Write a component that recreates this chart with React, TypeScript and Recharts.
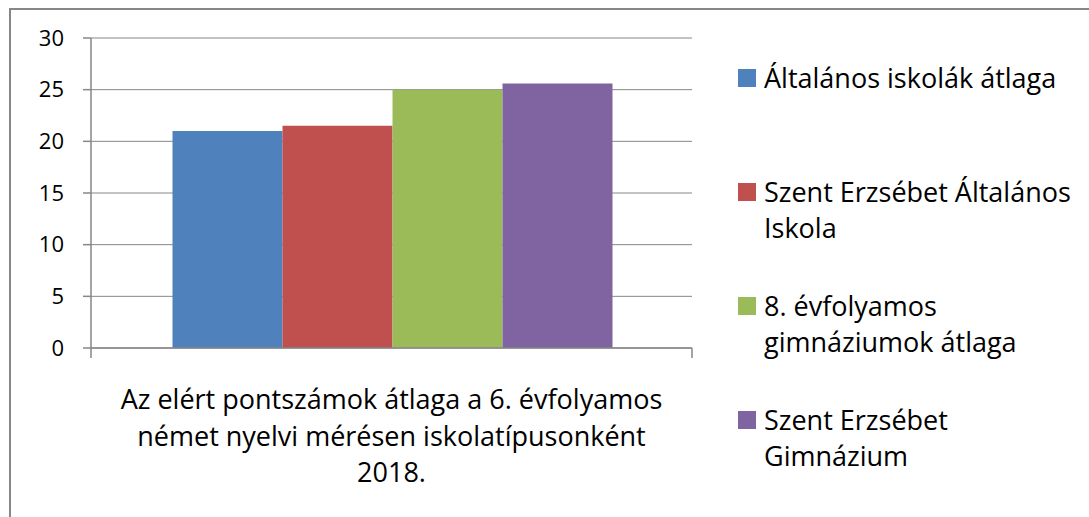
import React from "react";
import { BarChart, Bar, XAxis, YAxis, CartesianGrid, Legend } from "recharts";

const categories = [
  "Az elért pontszámok átlaga a 6. évfolyamos német nyelvi mérésen iskolatípusonként 2018.",
];
const categoryLines = [
  ["Az elért pontszámok átlaga a 6. évfolyamos", "német nyelvi mérésen iskolatípusonként", "2018."],
];
const seriesNames = [
  "Általános iskolák átlaga",
  "Szent Erzsébet Általános Iskola",
  "8. évfolyamos gimnáziumok átlaga",
  "Szent Erzsébet Gimnázium",
];
const legendLines = [
  ["Általános iskolák átlaga"],
  ["Szent Erzsébet Általános", "Iskola"],
  ["8. évfolyamos", "gimnáziumok átlaga"],
  ["Szent Erzsébet", "Gimnázium"],
];
const altalanosAtlag = [21.0];
const szentErzsebetAltalanos = [21.5];
const gimnazium8Atlag = [25.0];
const szentErzsebetGimnazium = [25.6];
const yTicks = [0, 5, 10, 15, 20, 25, 30];

const seriesValues = [altalanosAtlag, szentErzsebetAltalanos, gimnazium8Atlag, szentErzsebetGimnazium];
const seriesKeys = ["s0", "s1", "s2", "s3"];
const colors = ["#4F81BD", "#C0504D", "#9BBB59", "#8064A2"];

const data = categories.map((c, i) => {
  const row: any = { category: c, idx: i };
  seriesKeys.forEach((k, j) => {
    row[k] = seriesValues[j][i];
  });
  return row;
});

const FONT = "'Open Sans', 'DejaVu Sans', sans-serif";
const GRAY = "#878787";

const XTick = (props: any) => {
  const { x, y, payload, index } = props;
  const off = payload && payload.offset != null ? payload.offset : 300;
  const lines = categoryLines[index] || [String(payload.value)];
  return (
    <g>
      <line x1={x - off} x2={x - off} y1={y} y2={y + 10} stroke={GRAY} strokeWidth={1.5} />
      <line x1={x + off} x2={x + off} y1={y} y2={y + 10} stroke={GRAY} strokeWidth={1.5} />
      <text x={x} y={y + 61} textAnchor="middle" fontFamily={FONT} fontSize={27} fill="#000">
        {lines.map((l: string, i: number) => (
          <tspan key={i} x={x} dy={i === 0 ? 0 : 36.5}>
            {l}
          </tspan>
        ))}
      </text>
    </g>
  );
};

const renderLegend = () => (
  <div style={{ fontFamily: FONT, fontSize: 27, color: "#000" }}>
    {seriesNames.map((name, i) => (
      <div key={name} style={{ height: 114, display: "flex", alignItems: "flex-start" }}>
        <div
          style={{
            width: 18,
            height: 18,
            background: colors[i],
            marginTop: 9,
            marginRight: 8,
            flex: "0 0 auto",
          }}
        />
        <div style={{ lineHeight: "36px", whiteSpace: "nowrap" }}>
          {legendLines[i].map((l, j) => (
            <div key={j}>{l}</div>
          ))}
        </div>
      </div>
    ))}
  </div>
);

export default function App() {
  return (
    <div style={{ position: "absolute", left: 0, top: 0, width: 1089, height: 517, overflow: "hidden", background: "#fff" }}>
      <div
        style={{
          position: "absolute",
          left: 9,
          top: 8,
          width: 1200,
          height: 700,
          border: `2px solid ${GRAY}`,
        }}
      />
      <div style={{ position: "absolute", left: 0, top: 0 }}>
        <BarChart
          width={1089}
          height={517}
          data={data}
          margin={{ top: 38, right: 397, left: 31, bottom: 29 }}
          barCategoryGap={81.5}
          barGap={0}
        >
          <CartesianGrid horizontal vertical={false} stroke={GRAY} strokeWidth={1} />
          <XAxis
            dataKey="category"
            axisLine={{ stroke: GRAY, strokeWidth: 1.5 }}
            tickLine={false}
            tickSize={0}
            tickMargin={0}
            height={140}
            interval={0}
            tick={<XTick />}
          />
          <YAxis
            domain={[0, 30]}
            ticks={yTicks}
            width={60}
            axisLine={{ stroke: GRAY, strokeWidth: 1.5 }}
            tickLine={{ stroke: GRAY, strokeWidth: 1.5 }}
            tickSize={8}
            tickMargin={19}
            tick={{ fontFamily: FONT, fontSize: 22, fill: "#000" }}
          />
          <Legend
            layout="vertical"
            align="center"
            verticalAlign="middle"
            wrapperStyle={{ left: 738, top: 60, width: 350 }}
            content={renderLegend}
          />
          {seriesKeys.map((k, j) => (
            <Bar key={k} dataKey={k} name={seriesNames[j]} fill={colors[j]} isAnimationActive={false} />
          ))}
        </BarChart>
      </div>
    </div>
  );
}
